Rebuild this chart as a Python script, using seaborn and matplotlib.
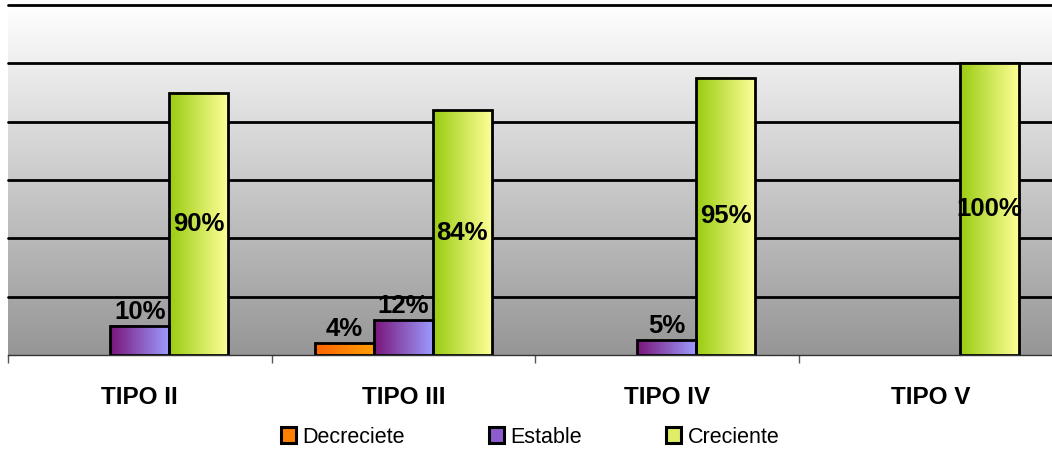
import numpy as np
import pandas as pd
import matplotlib
matplotlib.use("Agg")
import matplotlib.pyplot as plt
from matplotlib.colors import to_rgb
from matplotlib.patches import Patch
import seaborn as sns

# Data
tipos = ["TIPO II", "TIPO III", "TIPO IV", "TIPO V"]
series = ["Decreciete", "Estable", "Creciente"]
decreciente = [0, 4, 0, 0]
estable = [10, 12, 5, 0]
creciente = [90, 84, 95, 100]
y_ticks = [20, 40, 60, 80, 100, 120]

sns.set_theme(style="white")
plt.rcParams["font.family"] = ["Liberation Sans", "DejaVu Sans"]
plt.rcParams["text.color"] = "black"
plt.rcParams["xtick.labelcolor"] = "black"

df = pd.DataFrame({
    "tipo": tipos * 3,
    "serie": np.repeat(series, len(tipos)),
    "valor": decreciente + estable + creciente,
})

# horizontal gradient (left colour, right colour) for each series
gradients = {
    "Decreciete": ("#ff6400", "#ff9e00"),
    "Estable": ("#7a167a", "#9c9cff"),
    "Creciente": ("#99cc11", "#ffff99"),
}
legend_colors = {"Decreciete": "#ff7f00", "Estable": "#8c5ccc", "Creciente": "#dfee66"}

fig = plt.figure(figsize=(10.52, 4.51), dpi=100)
ax = fig.add_axes([8 / 1052, 96 / 451, 1054 / 1052, 350 / 451])

sns.barplot(data=df, x="tipo", y="valor", hue="serie", order=tipos,
            hue_order=series, width=0.672, dodge=True, ax=ax,
            edgecolor="black", linewidth=2.0, legend=False, zorder=3)

# vertical background gradient: white at top, grey at bottom
bg = np.linspace(150, 255, 256)[:, None] / 255.0
bg_img = np.dstack([bg, bg, bg])
ax.imshow(bg_img, extent=(0, 1, 0, 1), transform=ax.transAxes,
          origin="lower", aspect="auto", zorder=0)

# gradient fills clipped to each bar
for name, container in zip(series, ax.containers):
    c0, c1 = (np.array(to_rgb(c)) for c in gradients[name])
    t = np.linspace(0, 1, 64)[None, :, None]
    img = c0 + (c1 - c0) * t
    for bar in container:
        h = bar.get_height()
        if not h or np.isnan(h):
            bar.set_visible(False)
            continue
        x0 = bar.get_x()
        w = bar.get_width()
        ax.imshow(img, extent=(x0, x0 + w, 0, h), origin="lower",
                  aspect="auto", zorder=2.5, interpolation="bilinear")
        bar.set_facecolor("none")
        bar.set_zorder(3)

# value labels
for name, container, vals in zip(series, ax.containers,
                                 [decreciente, estable, creciente]):
    for bar, v in zip(container, vals):
        if v == 0:
            continue
        cx = bar.get_x() + bar.get_width() / 2
        if name == "Creciente":
            ax.text(cx, v / 2, f"{v}%", ha="center", va="center",
                    fontsize=18.5, fontweight="bold", color="black", zorder=5)
        else:
            ax.annotate(f"{v}%", (cx, v), xytext=(0, 1.5),
                        textcoords="offset points", ha="center", va="bottom",
                        fontsize=18.5, fontweight="bold", color="black", zorder=5)

# horizontal grid lines
for yv in y_ticks:
    ax.axhline(yv, color="black", lw=2.0, zorder=1.5, clip_on=False)

ax.set_xlim(-0.5, 3.5)
ax.set_ylim(0, 120)
ax.set_xlabel("")
ax.set_ylabel("")
ax.set_yticks([])
ax.set_xticks(range(len(tipos)))
ax.set_xticklabels(tipos, fontsize=17.5, fontweight="bold", color="black")
ax.tick_params(axis="x", which="major", length=0, pad=22)
ax.set_xticks([-0.5, 0.5, 1.5, 2.5], minor=True)
ax.tick_params(axis="x", which="minor", length=6, width=1, color="#555555",
               direction="out", bottom=True)
for side in ["top", "right", "left"]:
    ax.spines[side].set_visible(False)
ax.spines["bottom"].set_color("#333333")
ax.spines["bottom"].set_linewidth(1.0)
ax.spines["bottom"].set_zorder(4)

handles = [Patch(facecolor=legend_colors[s], edgecolor="black", linewidth=2.2)
           for s in series]
fig.legend(handles, series, loc="center", bbox_to_anchor=(0.504, 0.031),
           ncol=3, frameon=False, fontsize=15.5, handlelength=0.7,
           handleheight=0.7, handletextpad=0.3, columnspacing=3.9,
           labelcolor="black")

fig.savefig("out.png", dpi=100)
